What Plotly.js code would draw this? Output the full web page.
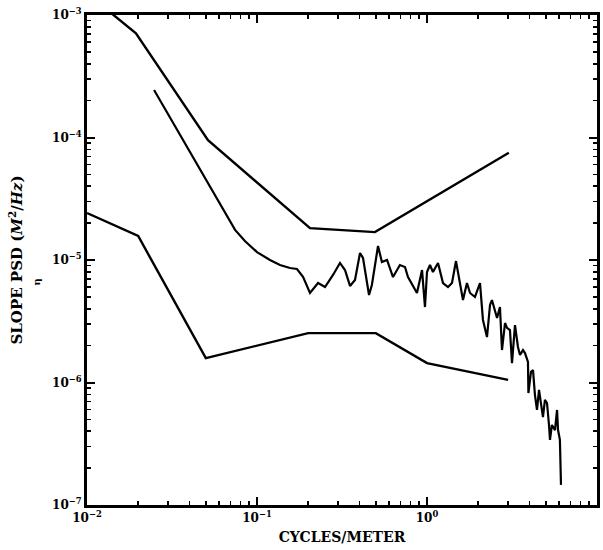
<!DOCTYPE html>
<html>
<head>
<meta charset="utf-8">
<script src="https://cdn.plot.ly/plotly-3.0.1.min.js"></script>
<style>html,body{margin:0;padding:0;background:#fff;}</style>
</head>
<body>
<div id="chart" style="width:603px;height:550px;"></div>
<script>
// Upper envelope
const upperX = [0.01, 0.0194, 0.0515, 0.205, 0.494, 3.03];
const upperY = [1.5e-3, 7.1e-4, 9.5e-5, 1.82e-5, 1.69e-5, 7.5e-5];

// Lower envelope
const lowerX = [0.01, 0.02, 0.05, 0.2, 0.5, 1.0, 3.0];
const lowerY = [2.42e-5, 1.57e-5, 1.58e-6, 2.53e-6, 2.53e-6, 1.44e-6, 1.05e-6];

// Measured slope PSD
const measX = [0.0248, 0.0743, 0.0849, 0.1, 0.1192, 0.1365, 0.1563, 0.1718, 0.1865,
  0.205, 0.2286, 0.2512, 0.280, 0.3076, 0.3293, 0.3524, 0.3771, 0.4036, 0.4202,
  0.456, 0.474, 0.515, 0.543, 0.582, 0.631, 0.693, 0.742, 0.773, 0.873, 0.935,
  0.973, 1.0, 1.041, 1.084, 1.161, 1.242, 1.329, 1.403, 1.481, 1.563, 1.628,
  1.718, 1.791, 1.915, 2.05, 2.134, 2.254, 2.348, 2.41, 2.582, 2.686, 2.761,
  2.877, 2.955, 3.076, 3.162, 3.293, 3.428, 3.524, 3.670, 3.771, 3.926, 3.95,
  4.09, 4.203, 4.316, 4.436, 4.56, 4.685, 4.81, 4.94, 5.08, 5.22, 5.29, 5.43,
  5.66, 5.82, 5.90, 6.05, 6.14];
const measY = [2.44e-4, 1.76e-5, 1.43e-5, 1.16e-5, 1.0e-5, 9.1e-6, 8.6e-6, 8.45e-6, 7.3e-6,
  5.38e-6, 6.49e-6, 6.02e-6, 7.55e-6, 9.46e-6, 8.28e-6, 6.14e-6, 6.87e-6, 1.14e-5, 1.04e-5,
  5.18e-6, 6.25e-6, 1.30e-5, 9.63e-6, 1.0e-5, 7.26e-6, 9.1e-6, 8.77e-6, 7.26e-6, 5.38e-6, 8.28e-6,
  4.13e-6, 7.98e-6, 9.1e-6, 7.98e-6, 9.46e-6, 6.49e-6, 6.02e-6, 6.49e-6, 9.8e-6, 6.49e-6, 4.71e-6,
  6.49e-6, 5.38e-6, 4.99e-6, 6.49e-6, 3.24e-6, 2.35e-6, 4.30e-6, 4.71e-6, 3.36e-6, 4.13e-6, 1.84e-6,
  3.06e-6, 2.79e-6, 2.68e-6, 1.44e-6, 2.94e-6, 1.95e-6, 1.68e-6, 1.84e-6, 1.74e-6, 1.47e-6, 8.2e-7,
  1.22e-6, 1.26e-6, 7.9e-7, 5.97e-7, 8.7e-7, 6.55e-7, 5.22e-7, 7.2e-7, 6.8e-7, 4.5e-7, 3.4e-7, 4.5e-7,
  4.09e-7, 5.97e-7, 4.09e-7, 3.4e-7, 1.46e-7];

const xTickVals = [0.01, 0.1, 1, 10];
const xTickText = ['10<sup>−2</sup>', '10<sup>−1</sup>', '10<sup>0</sup>', '10<sup>1</sup>'];
const yTickVals = [1e-7, 1e-6, 1e-5, 1e-4, 1e-3];
const yTickText = ['10<sup>−7</sup>', '10<sup>−6</sup>', '10<sup>−5</sup>', '10<sup>−4</sup>', '10<sup>−3</sup>'];

function minorVals(lo, hi) {
  const v = [];
  for (let e = lo; e < hi; e++) for (let m = 2; m <= 9; m++) v.push(m * Math.pow(10, e));
  return v;
}
const xMinor = minorVals(-2, 1);
const yMinor = minorVals(-7, -3);

const lineStyle = {color: '#000', width: 2.4};
const traces = [
  {x: upperX, y: upperY, mode: 'lines', line: lineStyle, hoverinfo: 'skip'},
  {x: lowerX, y: lowerY, mode: 'lines', line: lineStyle, hoverinfo: 'skip'},
  {x: measX, y: measY, mode: 'lines', line: {color: '#000', width: 2.2}, hoverinfo: 'skip'},
  {x: xTickVals.slice(1, 2), y: yTickVals.slice(2, 3), xaxis: 'x2', yaxis: 'y2', mode: 'markers',
   marker: {opacity: 0, size: 1}, hoverinfo: 'skip'}
];

const fontFam = '"DejaVu Serif", "Liberation Serif", serif';
const minorSpec = {ticks: 'inside', ticklen: 4, tickwidth: 1.6, tickcolor: '#000', dtick: 'D1'};
const axisCommon = {
  type: 'log', showgrid: false, zeroline: false,
  showline: true, linecolor: '#000', linewidth: 3, mirror: 'ticks',
  ticks: 'inside', ticklen: 8, tickwidth: 2, tickcolor: '#000',
  tickmode: 'array',
  tickfont: {family: fontFam, size: 12, color: '#000', weight: 'bold'},
  minor: minorSpec
};
const minorCommon = {
  type: 'log', showgrid: false, zeroline: false, showline: false, visible: true,
  mirror: 'ticks', ticks: 'inside', ticklen: 4, tickwidth: 1.6, tickcolor: '#000',
  tickmode: 'array', showticklabels: true, tickfont: {size: 1, color: 'rgba(0,0,0,0)'}
};

const layout = {
  width: 603, height: 550,
  margin: {l: 87, r: 6, t: 15, b: 45},
  paper_bgcolor: '#fff', plot_bgcolor: '#fff',
  showlegend: false,
  xaxis: Object.assign({}, axisCommon, {
    range: [-2, 1], tickvals: xTickVals, ticktext: xTickText,
    title: {text: 'CYCLES/METER', standoff: 8, font: {family: fontFam, size: 14, color: '#000', weight: 'bold'}}
  }),
  yaxis: Object.assign({}, axisCommon, {
    range: [-7, -3], tickvals: yTickVals, ticktext: yTickText,
    title: {text: 'SLOPE PSD (<i>M</i><sup>2</sup>/<i>Hz</i>)', standoff: 26, font: {family: fontFam, size: 15, color: '#000', weight: 'bold'}}
  }),
  xaxis2: Object.assign({}, minorCommon, {
    range: [-2, 1], tickvals: xMinor, ticktext: xMinor.map(() => ' '),
    overlaying: 'x', anchor: 'y', side: 'bottom'
  }),
  yaxis2: Object.assign({}, minorCommon, {
    range: [-7, -3], tickvals: yMinor, ticktext: yMinor.map(() => ' '),
    overlaying: 'y', anchor: 'x', side: 'left'
  }),
  annotations: [
    {text: 'η', xref: 'paper', yref: 'paper', x: -0.114, y: 0.455, showarrow: false, textangle: -90,
     font: {family: fontFam, size: 10, color: '#000', weight: 'bold'}}
  ]
};

Plotly.newPlot('chart', traces, layout, {displayModeBar: false, staticPlot: true});
</script>
</body>
</html>
